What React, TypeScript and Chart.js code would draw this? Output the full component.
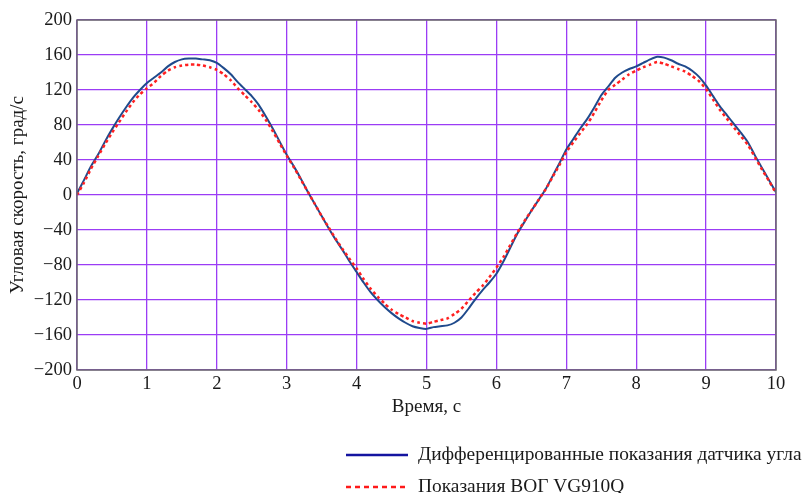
import React, { useEffect, useRef } from "react";
import { Chart, registerables } from "chart.js";

Chart.register(...registerables);

const timeSec = [
  0, 0.1, 0.2, 0.3, 0.4, 0.5, 0.6, 0.7, 0.8, 0.9,
  1, 1.1, 1.2, 1.3, 1.4, 1.5, 1.6, 1.7, 1.8, 1.9,
  2, 2.1, 2.2, 2.3, 2.4, 2.5, 2.6, 2.7, 2.8, 2.9,
  3, 3.1, 3.2, 3.3, 3.4, 3.5, 3.6, 3.7, 3.8, 3.9,
  4, 4.1, 4.2, 4.3, 4.4, 4.5, 4.6, 4.7, 4.8, 4.9,
  5, 5.1, 5.2, 5.3, 5.4, 5.5, 5.6, 5.7, 5.8, 5.9,
  6, 6.1, 6.2, 6.3, 6.4, 6.5, 6.6, 6.7, 6.8, 6.9,
  7, 7.1, 7.2, 7.3, 7.4, 7.5, 7.6, 7.7, 7.8, 7.9,
  8, 8.1, 8.2, 8.3, 8.4, 8.5, 8.6, 8.7, 8.8, 8.9,
  9, 9.1, 9.2, 9.3, 9.4, 9.5, 9.6, 9.7, 9.8, 9.9,
  10,
];

const sensorRate = [
  2, 17, 33, 46, 61, 75, 88, 100, 111, 120,
  128, 134, 140, 147, 152, 155, 156, 156, 155, 154,
  151, 145, 138, 129, 121, 113, 103, 90, 76, 61,
  46, 33, 19, 4, -10, -24, -38, -51, -63, -76,
  -88, -100, -111, -120, -128, -135, -141, -146, -150, -152,
  -153, -151, -150, -149, -146, -140, -130, -119, -109, -100,
  -90, -76, -60, -44, -31, -18, -6, 6, 21, 36,
  52, 64, 76, 87, 100, 114, 124, 134, 140, 144,
  147, 151, 155, 158, 157, 154, 150, 147, 142, 135,
  125, 113, 101, 91, 81, 71, 60, 45, 31, 17,
  3,
];

const gyroRate = [
  0, 14, 30, 44, 58, 71, 83, 95, 106, 115,
  122, 128, 136, 142, 146, 148, 149, 149, 148, 146,
  143, 138, 131, 122, 114, 106, 97, 86, 73, 59,
  45, 32, 18, 4, -10, -24, -37, -50, -62, -73,
  -84, -96, -107, -116, -124, -131, -136, -140, -144, -146,
  -147, -145, -143, -141, -136, -130, -121, -112, -104, -94,
  -83, -71, -57, -43, -30, -18, -6, 6, 20, 34,
  49, 60, 71, 81, 94, 108, 120, 126, 132, 138,
  142, 146, 149, 152, 150, 147, 144, 141, 136, 130,
  121, 109, 97, 87, 77, 67, 57, 43, 29, 16,
  2,
];

const seriesNames = [
  "Дифференцированные показания датчика угла",
  "Показания ВОГ VG910Q",
];
const xTitle = "Время, с";
const yTitle = "Угловая скорость, град/с";

const FONT = "'Liberation Serif', 'Times New Roman', serif";
const GRID = "#9b3cf5";

const framePlugin = {
  id: "frame",
  afterDatasetsDraw(chart: any) {
    const { ctx, chartArea: a } = chart;
    ctx.save();
    ctx.strokeStyle = "#6a6a6a";
    ctx.lineWidth = 1.5;
    ctx.strokeRect(a.left, a.top, a.right - a.left, a.bottom - a.top);
    ctx.restore();
  },
  afterDraw(chart: any) {
    const { ctx } = chart;
    ctx.save();
    ctx.font = `19.4px ${FONT}`;
    ctx.fillStyle = "#1a1a1a";
    ctx.textBaseline = "middle";
    ctx.textAlign = "left";
    ctx.strokeStyle = "#1414a0";
    ctx.lineWidth = 2.5;
    ctx.beginPath();
    ctx.moveTo(346, 455);
    ctx.lineTo(408, 455);
    ctx.stroke();
    ctx.fillText(seriesNames[0], 418, 455);
    ctx.strokeStyle = "#ff1a1a";
    ctx.setLineDash([5, 4]);
    ctx.beginPath();
    ctx.moveTo(346, 487);
    ctx.lineTo(408, 487);
    ctx.stroke();
    ctx.setLineDash([]);
    ctx.fillText(seriesNames[1], 418, 487);
    ctx.restore();
  },
};

export default function App() {
  const ref = useRef<HTMLCanvasElement>(null);
  useEffect(() => {
    if (!ref.current) return;
    const chart = new Chart(ref.current, {
      type: "line",
      data: {
        datasets: [
          {
            label: seriesNames[1],
            data: timeSec.map((t, i) => ({ x: t, y: gyroRate[i] })),
            borderColor: "#ff2020",
            borderWidth: 2.5,
            borderDash: [3, 3],
            pointRadius: 0,
            tension: 0.2,
            fill: false,
          },
          {
            label: seriesNames[0],
            data: timeSec.map((t, i) => ({ x: t, y: sensorRate[i] })),
            borderColor: "#1f4a8c",
            borderWidth: 2,
            pointRadius: 0,
            tension: 0.2,
            fill: false,
          },
        ],
      },
      options: {
        animation: false,
        responsive: false,
        maintainAspectRatio: false,
        layout: { padding: { left: 0, right: 26, top: 20, bottom: 75 } },
        plugins: { legend: { display: false }, tooltip: { enabled: false } },
        scales: {
          x: {
            type: "linear",
            min: 0,
            max: 10,
            afterFit: (s: any) => {
              s.height = 48;
            },
            ticks: {
              stepSize: 1,
              padding: 3,
              color: "#1a1a1a",
              font: { family: FONT, size: 18.5 },
            },
            grid: { color: GRID, lineWidth: 1.3, drawTicks: false },
            border: { display: false },
            title: {
              display: true,
              text: xTitle,
              color: "#1a1a1a",
              font: { family: FONT, size: 19 },
              padding: 0,
            },
          },
          y: {
            type: "linear",
            min: -200,
            max: 200,
            afterFit: (s: any) => {
              s.width = 77;
            },
            ticks: {
              stepSize: 40,
              padding: 5,
              color: "#1a1a1a",
              font: { family: FONT, size: 18.5 },
              callback: (v: any) => (Number(v) < 0 ? "\u2212" + Math.abs(Number(v)) : String(v)),
            },
            grid: { color: GRID, lineWidth: 1.3, drawTicks: false },
            border: { display: false },
            title: {
              display: true,
              text: yTitle,
              color: "#1a1a1a",
              font: { family: FONT, size: 19 },
              padding: { top: 7, bottom: 0 },
            },
          },
        },
      },
      plugins: [framePlugin],
    });
    return () => chart.destroy();
  }, []);
  return (
    <div style={{ position: "fixed", left: 0, top: 0, width: 802, height: 493, background: "#fff" }}>
      <canvas ref={ref} width={802} height={493} style={{ width: 802, height: 493 }} />
    </div>
  );
}
